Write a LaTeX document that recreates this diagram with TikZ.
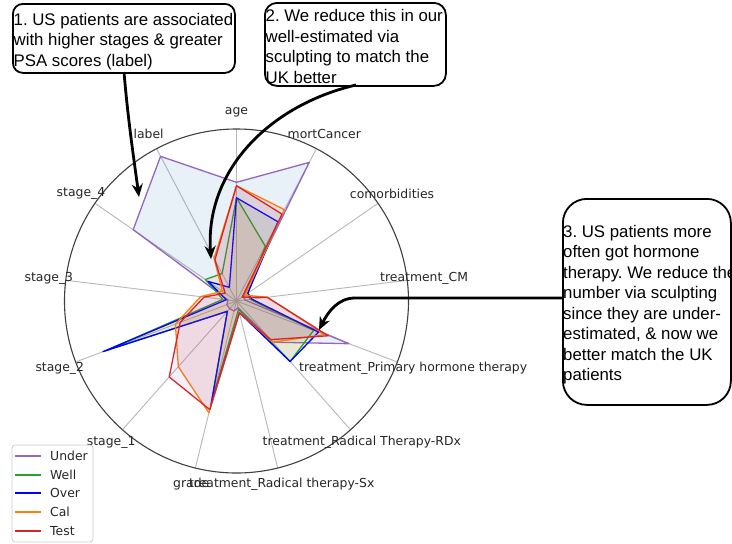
\documentclass[tikz,border=0pt]{standalone}
\usepackage{fontspec}
\setmainfont{Liberation Sans}
\newfontfamily\mplfont{DejaVu Sans}
\usetikzlibrary{arrows.meta}
\definecolor{tabblue}{HTML}{1F77B4}
\definecolor{taborange}{HTML}{FF7F0E}
\definecolor{tabgreen}{HTML}{2CA02C}
\definecolor{tabred}{HTML}{D62728}
\definecolor{tabpurple}{HTML}{9467BD}
\definecolor{overblue}{HTML}{0000FF}
\definecolor{gridgray}{HTML}{B8B8B8}
\definecolor{spinegray}{HTML}{404040}
\frenchspacing
\begin{document}
\begin{tikzpicture}[x=1pt,y=-1pt,
  axlabel/.style={font=\mplfont\fontsize{12.4}{14}\selectfont, text=black!85, inner sep=0pt},
  calloutbox/.style={draw=black, line width=1.8pt, inner sep=0pt, anchor=north west},
  callouttext/.style={align=left, inner sep=0pt, anchor=west,
     font=\fontsize{16.8}{20.5}\selectfont},
  series/.style={line width=1.3pt, line join=round, fill opacity=0.1},
  bigarrow/.style={line width=2.8pt, -{Stealth[length=13pt,width=11pt]}},
  legline/.style={line width=1.5pt},
  legtext/.style={font=\mplfont\fontsize{12.4}{14}\selectfont, anchor=west, inner sep=0pt, text=black!85}]
\useasboundingbox (0,0) rectangle (732,544);
\fill[white] (0,0) rectangle (732,544);

\begin{scope}[shift={(236.5,301)}]
  \coordinate (C) at (0,0);
  % spokes
  \foreach \i in {0,...,12} {
    \coordinate (sp\i) at (\i*27.6923-90:172);
    \draw[gridgray, line width=0.9pt] (C) -- (sp\i);
  }
  % data points
  \foreach \s/\vals in {
     U/{0.69,0.91,0.05,0.05,0.70,0.32,0.04,0.06,0.06,0.06,0.05,0.73,0.95},
     W/{0.60,0.36,0.08,0.08,0.48,0.47,0.05,0.60,0.08,0.80,0.08,0.22,0.18},
     O/{0.60,0.52,0.08,0.09,0.51,0.47,0.07,0.62,0.08,0.83,0.06,0.20,0.09},
     K/{0.67,0.60,0.06,0.18,0.55,0.32,0.07,0.67,0.51,0.38,0.21,0.10,0.28},
     T/{0.67,0.57,0.04,0.18,0.57,0.30,0.07,0.65,0.59,0.35,0.19,0.08,0.27}} {
    \foreach \v [count=\i from 0] in \vals {
      \coordinate (\s\i) at (\i*27.6923-90:\v*172);
    }
  }
  \filldraw[series, draw=tabpurple, fill=tabblue]
    (U0)--(U1)--(U2)--(U3)--(U4)--(U5)--(U6)--(U7)--(U8)--(U9)--(U10)--(U11)--(U12)--cycle;
  \filldraw[series, draw=tabgreen, fill=taborange]
    (W0)--(W1)--(W2)--(W3)--(W4)--(W5)--(W6)--(W7)--(W8)--(W9)--(W10)--(W11)--(W12)--cycle;
  \filldraw[series, draw=overblue, fill=tabgreen]
    (O0)--(O1)--(O2)--(O3)--(O4)--(O5)--(O6)--(O7)--(O8)--(O9)--(O10)--(O11)--(O12)--cycle;
  \filldraw[series, draw=taborange, fill=tabred]
    (K0)--(K1)--(K2)--(K3)--(K4)--(K5)--(K6)--(K7)--(K8)--(K9)--(K10)--(K11)--(K12)--cycle;
  \filldraw[series, draw=tabred, fill=tabpurple]
    (T0)--(T1)--(T2)--(T3)--(T4)--(T5)--(T6)--(T7)--(T8)--(T9)--(T10)--(T11)--(T12)--cycle;
  % outer circle
  \draw[spinegray, line width=1.1pt] (C) circle[radius=172];
  % axis labels
  \foreach \lab [count=\i from 0] in {age, mortCancer, comorbidities, treatment\_CM,
      treatment\_Primary hormone therapy, treatment\_Radical Therapy-RDx,
      treatment\_Radical therapy-Sx, grade, stage\_1, stage\_2, stage\_3, stage\_4, label} {
    \node[axlabel] (ax\i) at (\i*27.6923-90:189) {\lab};
  }
\end{scope}

% legend
\draw[black!20, fill=white, fill opacity=0.8, line width=0.8pt, rounded corners=3pt] (12,445) rectangle (93,542);
\coordinate (la0) at (15,456);   \coordinate (lb0) at (41,456);
\coordinate (la1) at (15,475);   \coordinate (lb1) at (41,475);
\coordinate (la2) at (15,493);   \coordinate (lb2) at (41,493);
\coordinate (la3) at (15,512);   \coordinate (lb3) at (41,512);
\coordinate (la4) at (15,531);   \coordinate (lb4) at (41,531);
\draw[legline, draw=tabpurple] (la0) -- (lb0);
\draw[legline, draw=tabgreen] (la1) -- (lb1);
\draw[legline, draw=overblue] (la2) -- (lb2);
\draw[legline, draw=taborange] (la3) -- (lb3);
\draw[legline, draw=tabred] (la4) -- (lb4);
\node[legtext] (lt0) at (50,456) {Under};
\node[legtext] (lt1) at (50,475) {Well};
\node[legtext] (lt2) at (50,493) {Over};
\node[legtext] (lt3) at (50,512) {Cal};
\node[legtext] (lt4) at (50,531) {Test};

% callouts
\node[calloutbox, rounded corners=10pt, minimum width=222pt, minimum height=69pt] (box1) at (12,3) {};
\node[callouttext] (txt1) at ([xshift=1.5pt,yshift=-3pt]box1.west)
  {1. US patients are associated\\with higher stages \& greater\\PSA scores (label)};
\node[calloutbox, rounded corners=12pt, minimum width=181pt, minimum height=83pt] (box2) at (264,2) {};
\node[callouttext] (txt2) at ([xshift=1.5pt,yshift=-2pt]box2.west)
  {2. We reduce this in our\\well-estimated via\\sculpting to match the\\UK better};
\node[calloutbox, rounded corners=24pt, minimum width=168pt, minimum height=206pt] (box3) at (562,198) {};
\node[callouttext] (txt3) at ([xshift=1pt,yshift=-3pt]box3.west)
  {3. US patients more\\often got hormone\\therapy. We reduce the\\number via sculpting\\since they are under-\\estimated, \& now we\\better match the UK\\patients};

% arrows
\coordinate (s1) at (124,72);
\coordinate (t1) at (139,197);
\draw[bigarrow] (s1) .. controls (128,120) and (134,160) .. (t1);
\coordinate (s2) at (356,85);
\coordinate (t2) at (211,259);
\draw[bigarrow] (s2) .. controls (270,105) and (205,170) .. (t2);
\coordinate (s3) at (562,298);
\coordinate (m3) at (355,298);
\coordinate (t3) at (319,330);
\draw[bigarrow] (s3) -- (m3) .. controls (338,298) and (328,312) .. (t3);
\end{tikzpicture}
\end{document}
